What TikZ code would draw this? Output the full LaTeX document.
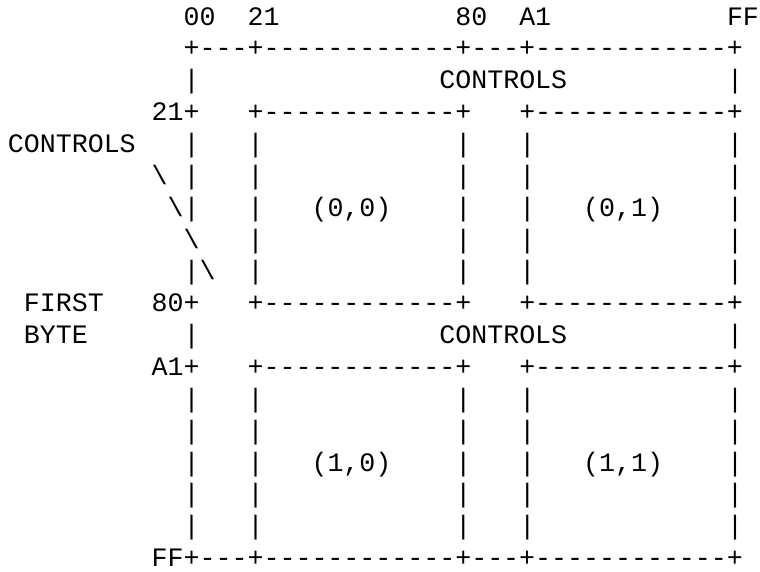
\documentclass[tikz,border=0pt]{standalone}
\usepackage{fontspec}
\setmonofont{Liberation Mono}
\begin{document}
\begin{tikzpicture}[
  ascii/.style={anchor=base west, inner sep=0pt, outer sep=0pt,
    font=\ttfamily\fontsize{26.63pt}{31.86pt}\selectfont}]
\useasboundingbox (0pt,0pt) rectangle (760pt,-571pt);
% character grid: x = column, y = line
\begin{scope}[shift={(7.9pt,-25pt)}, x=15.98pt, y=-31.86pt]
  % column headings
  \node[ascii] (h00) at (11,0) {00};
  \node[ascii] (h21) at (15,0) {21};
  \node[ascii] (h80) at (28,0) {80};
  \node[ascii] (hA1) at (32,0) {A1};
  \node[ascii] (hFF) at (45,0) {FF};
  % top border
  \node[ascii] (top) at (11,1) {+---+------------+---+------------+};
  \node[ascii] (vl2) at (11,2) {|};
  \node[ascii] (ctl1) at (27,2) {CONTROLS};
  \node[ascii] (vr2) at (45,2) {|};
  % row 21
  \node[ascii] (r21) at (9,3) {21+};
  \node[ascii] (b00top) at (15,3) {+------------+};
  \node[ascii] (b01top) at (32,3) {+------------+};
  % left label and its leader
  \node[ascii] (ctl0) at (0,4) {CONTROLS};
  \node[ascii] (sl1) at (9,5) {\textbackslash};
  \node[ascii] (sl2) at (10,6) {\textbackslash|};
  \node[ascii] (sl3) at (11,7) {\textbackslash};
  \node[ascii] (sl4) at (11,8) {|\textbackslash};
  \foreach \r in {4,5} \node[ascii] (vl\r) at (11,\r) {|};
  \foreach \r in {4,...,8}
    \foreach \c in {15,28,32,45}
      \node[ascii] (v\r-\c) at (\c,\r) {|};
  \node[ascii] (q00) at (19,6) {(0,0)};
  \node[ascii] (q01) at (36,6) {(0,1)};
  % row 80
  \node[ascii] (first) at (1,9) {FIRST};
  \node[ascii] (r80) at (9,9) {80+};
  \node[ascii] (b00bot) at (15,9) {+------------+};
  \node[ascii] (b01bot) at (32,9) {+------------+};
  \node[ascii] (byte) at (1,10) {BYTE};
  \node[ascii] (vl10) at (11,10) {|};
  \node[ascii] (ctl2) at (27,10) {CONTROLS};
  \node[ascii] (vr10) at (45,10) {|};
  % row A1
  \node[ascii] (rA1) at (9,11) {A1+};
  \node[ascii] (b10top) at (15,11) {+------------+};
  \node[ascii] (b11top) at (32,11) {+------------+};
  \foreach \r in {12,...,16}
    \foreach \c in {11,15,28,32,45}
      \node[ascii] (v\r-\c) at (\c,\r) {|};
  \node[ascii] (q10) at (19,14) {(1,0)};
  \node[ascii] (q11) at (36,14) {(1,1)};
  % bottom border
  \node[ascii] (bot) at (9,17) {FF+---+------------+---+------------+};
\end{scope}
\end{tikzpicture}
\end{document}
